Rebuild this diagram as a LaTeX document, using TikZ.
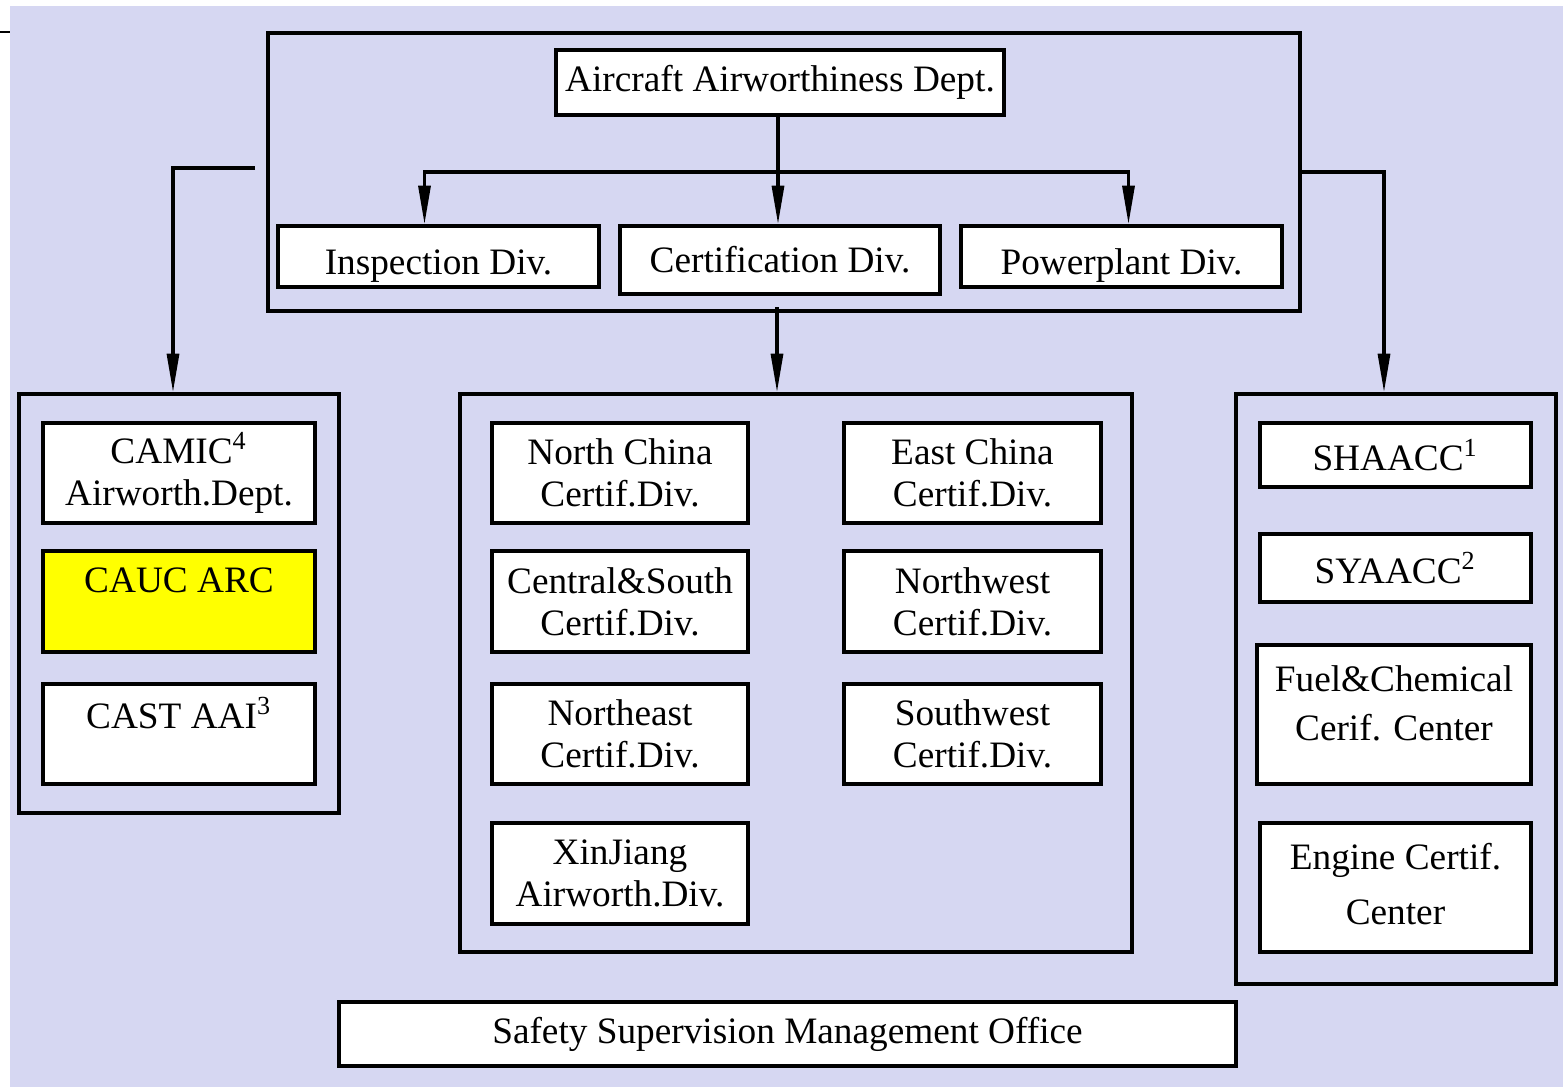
\documentclass[tikz,border=0pt]{standalone}
\usepackage{fontspec}
\setmainfont{Liberation Serif}
\usetikzlibrary{calc,positioning,arrows.meta}
\definecolor{bgblue}{RGB}{214,215,242}
\definecolor{arcyellow}{RGB}{255,255,0}

\begin{document}
\begin{tikzpicture}[x=0.01cm, y=-0.01cm]
\tikzstyle{box}=[draw, fill=white, line width=0.95pt, inner sep=0pt,
                 align=center, font=\fontsize{10.6}{12}\selectfont]
\tikzstyle{frame}=[draw, line width=0.95pt, inner sep=0pt]
\tikzstyle{boxsize}=[minimum width=#1*0.01cm]
\tikzstyle{boxhigh}=[minimum height=#1*0.01cm]
\tikzstyle{arr}=[line width=0.95pt, -{Triangle[length=11pt,width=3.4pt]}]
\tikzstyle{lowtext}=[text height=11pt, text depth=1pt]
\useasboundingbox (0,0) rectangle (1563,1087);
\fill[bgblue] (10,6) rectangle (1563,1087);
\draw[line width=0.6pt] (0,32) -- (10,32);

% top department
\node[frame, boxsize=1032, boxhigh=278] (top) at (784,172) {};
\node[box, boxsize=448, boxhigh=65] (dept) at (780,82.5) {Aircraft Airworthiness Dept.};
\node[box, lowtext, boxsize=321, boxhigh=61] (insp) at (438.5,256.5) {Inspection Div.};
\node[box, boxsize=320, boxhigh=68] (cert) at (780,260) {Certification Div.};
\node[box, lowtext, boxsize=321, boxhigh=61] (power) at (1121.5,256.5) {Powerplant Div.};

% left group
\node[frame, boxsize=320, boxhigh=419] (leftc) at (179,603.5) {};
\node[box, boxsize=272, boxhigh=100] (camic) at (179,473) {CAMIC\textsuperscript{4}\\Airworth.Dept.};
\node[box, boxsize=272, boxhigh=101, fill=arcyellow] (cauc) at (179,601.5) {CAUC ARC\\~};
\node[box, boxsize=272, boxhigh=100] (cast) at (179,734) {CAST AAI\textsuperscript{3}\\~};

% regional divisions
\node[frame, boxsize=672, boxhigh=558] (midc) at (796,673) {};
\node[box, boxsize=256, boxhigh=100] (nchina) at (620,473) {North China\\Certif.Div.};
\node[box, boxsize=257, boxhigh=100] (echina) at (972.5,473) {East China\\Certif.Div.};
\node[box, boxsize=256, boxhigh=101] (csouth) at (620,601.5) {Central\&South\\Certif.Div.};
\node[box, boxsize=257, boxhigh=101] (nwest) at (972.5,601.5) {Northwest\\Certif.Div.};
\node[box, boxsize=256, boxhigh=100] (neast) at (620,734) {Northeast\\Certif.Div.};
\node[box, boxsize=257, boxhigh=100] (swest) at (972.5,734) {Southwest\\Certif.Div.};
\node[box, boxsize=256, boxhigh=101] (xinj) at (620,873.5) {XinJiang\\Airworth.Div.};

% right group
\node[frame, boxsize=320, boxhigh=590] (rightc) at (1396,689) {};
\node[box, boxsize=271, boxhigh=64] (shaacc) at (1395.5,455) {SHAACC\textsuperscript{1}};
\node[box, boxsize=271, boxhigh=68] (syaacc) at (1395.5,568) {SYAACC\textsuperscript{2}};
\node[box, boxsize=274, boxhigh=139] (fuel) at (1394,714.5) {Fuel\&Chemical\\[2pt]Cerif. Center\\[-5.5pt]~};
\node[box, boxsize=271, boxhigh=129] (engine) at (1395.5,887.5) {Engine Certif.\\[3.5pt]Center\\[-10pt]~};

\node[box, boxsize=897, boxhigh=64] (safety) at (787.5,1034) {Safety Supervision Management Office};

% connectors
\coordinate (split) at ($(dept.south)+(-2,0)$);
\coordinate (fork) at (split |- 0,172);
\draw[arr] (split) -- (split |- cert.north);
\draw[arr] (fork) -| ($(insp.north)+(-14,0)$);
\draw[arr] (fork) -| ($(power.north)+(7,0)$);
\coordinate (lstub) at (255,168);
\draw[arr] (lstub) -| ($(leftc.north)+(-6,0)$);
\draw[arr] (top.east |- fork) -| ($(rightc.north)+(-12,0)$);
\coordinate (mstub) at (777,307);
\draw[arr] (mstub) -- (mstub |- midc.north);
\end{tikzpicture}
\end{document}
